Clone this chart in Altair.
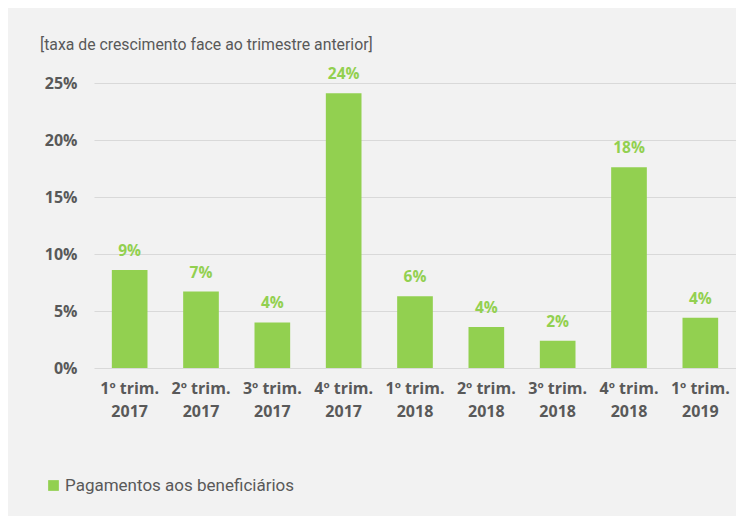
import altair as alt
import pandas as pd

categories = ["1º trim. 2017", "2º trim. 2017", "3º trim. 2017", "4º trim. 2017",
              "1º trim. 2018", "2º trim. 2018", "3º trim. 2018", "4º trim. 2018",
              "1º trim. 2019"]
values = [0.086, 0.067, 0.040, 0.241, 0.063, 0.036, 0.024, 0.176, 0.044]
series = "Pagamentos aos beneficiários"
title_text = "[taxa de crescimento face ao trimestre anterior]"

df = pd.DataFrame({"trimestre": categories, "valor": values, "serie": series})

GREEN = "#92d050"
GRAY = "#595959"

x = alt.X("trimestre:N", sort=categories, title=None,
          scale=alt.Scale(paddingInner=0.5, paddingOuter=0.25),
          axis=alt.Axis(labelAngle=0, labelExpr="[substring(datum.label, 0, 8), substring(datum.label, 9)]",
                        labelFont="Open Sans", labelFontWeight="bold", labelFontSize=16,
                        labelColor=GRAY, labelLineHeight=23, labelPadding=12,
                        ticks=False, domain=False, grid=False, labelBaseline="top"))
y = alt.Y("valor:Q", title=None,
          scale=alt.Scale(domain=[0, 0.25], nice=False),
          axis=alt.Axis(format=".0%", values=[0, 0.05, 0.10, 0.15, 0.20, 0.25],
                        labelFont="Open Sans", labelFontWeight="bold", labelFontSize=16,
                        labelColor=GRAY, labelPadding=17, ticks=False, domain=False,
                        grid=True, gridColor="#d9d9d9", gridWidth=1))

bars = alt.Chart(df).mark_bar(color=GREEN).encode(
    x=x, y=y,
    color=alt.Color("serie:N", title=None,
                    scale=alt.Scale(range=[GREEN]),
                    legend=alt.Legend(orient="none", legendX=-49, legendY=394,
                                      symbolType="square", symbolSize=115,
                                      symbolStrokeWidth=0, labelOffset=3,
                                      labelLimit=0,
                                      labelFont="Roboto",
                                      labelFontSize=17, labelColor=GRAY,
                                      labelFontWeight="normal"))
)

labels = alt.Chart(df).mark_text(
    color=GREEN, font="Open Sans", fontWeight="bold", fontSize=15.5,
    baseline="alphabetic", dy=-14
).encode(x=x, y=y, text=alt.Text("valor:Q", format=".0%"))

chart = alt.layer(bars, labels).properties(
    width=642, height=285,
    autosize=alt.AutoSizeParams(type="none"),
    padding={"left": 86, "top": 75, "right": 0, "bottom": 148},
    background="#f2f2f2",
    title=alt.TitleParams(title_text, anchor="start", frame="group", dx=-54, offset=13,
                          font="Roboto", fontSize=15.8,
                          fontWeight="normal", color=GRAY)
).configure_view(stroke=None)

chart.save("out.html", embed_options={"renderer": "svg", "actions": False})
